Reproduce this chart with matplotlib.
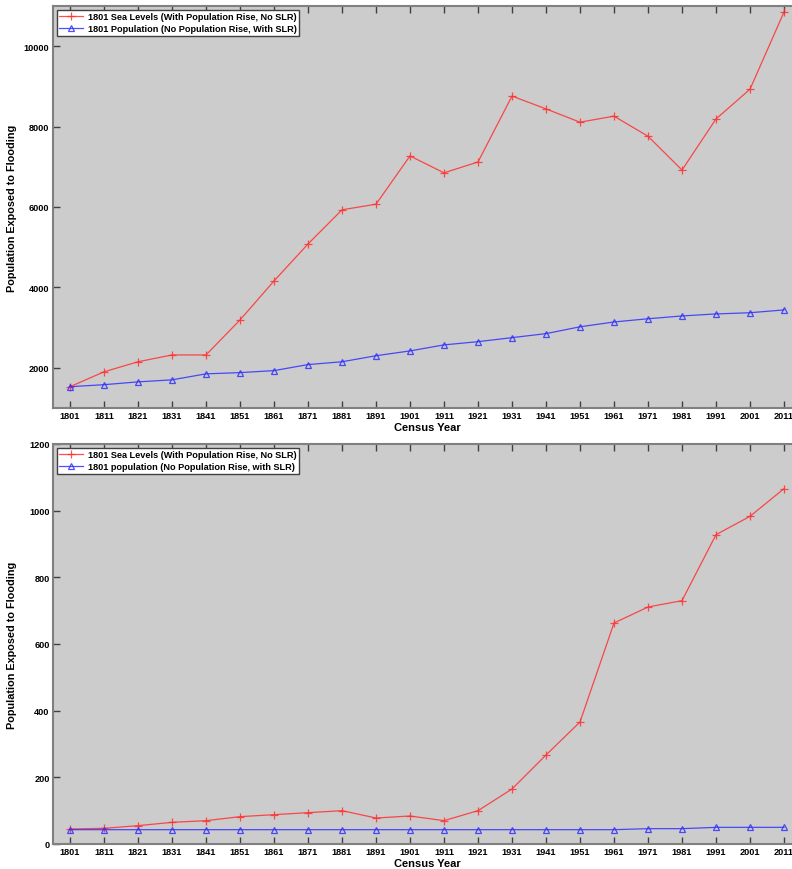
import matplotlib
matplotlib.use("Agg")
import matplotlib.pyplot as plt
import numpy as np

plt.rcParams['font.family'] = ['Liberation Sans', 'DejaVu Sans']
plt.rcParams['font.weight'] = 'bold'

years = list(range(1801, 2012, 10))

# top panel
top_sea = [1530, 1900, 2150, 2320, 2320, 3190, 4160, 5080, 5930, 6070, 7270,
           6850, 7120, 8760, 8440, 8110, 8260, 7760, 6920, 8190, 8930, 10850]
top_pop = [1530, 1580, 1650, 1700, 1850, 1880, 1930, 2080, 2150, 2300, 2420,
           2570, 2650, 2750, 2850, 3020, 3140, 3220, 3290, 3340, 3370, 3440]

# bottom panel
bot_sea = [45, 47, 55, 65, 70, 82, 88, 94, 100, 78, 84,
           70, 100, 165, 267, 366, 663, 711, 730, 928, 983, 1066]
bot_pop = [43, 43, 43, 43, 43, 43, 43, 43, 43, 43, 43,
           43, 43, 43, 43, 43, 43, 46, 46, 50, 50, 50]

top_labels = ['1801 Sea Levels (With Population Rise, No SLR)',
              '1801 Population (No Population Rise, With SLR)']
bot_labels = ['1801 Sea Levels (With Population Rise, No SLR)',
              '1801 population (No Population Rise, with SLR)']

fig = plt.figure(figsize=(7.92, 8.7), dpi=100)
ax1 = fig.add_axes([53/792, 1 - 409/870, 748/792, 402/870])
ax2 = fig.add_axes([53/792, 1 - 845/870, 748/792, 400/870])

def draw(ax, sea, pop, labels, ylim, yticks):
    ax.set_facecolor('#cccccc')
    ax.plot(years, sea, color='#ff3030', lw=0.9, marker='+', ms=5.5, mew=0.9,
            alpha=0.85, label=labels[0])
    ax.plot(years, pop, color='#3030ff', lw=0.9, marker='^', ms=4.5, mew=0.9,
            mfc='none', alpha=0.85, label=labels[1])
    ax.set_xlim(1796, 2016)
    ax.set_ylim(*ylim)
    ax.set_xticks(years)
    ax.set_yticks(yticks)
    ax.tick_params(direction='in', length=5, width=1, color='#404040',
                   labelsize=6.6, top=True, pad=2.5)
    for lab in ax.get_xticklabels() + ax.get_yticklabels():
        lab.set_fontweight('bold')
    for s in ax.spines.values():
        s.set_color('#808080')
        s.set_linewidth(1.5)
    ax.set_xlabel('Census Year', fontsize=8, fontweight='bold', labelpad=1)
    ax.set_ylabel('Population Exposed to Flooding', fontsize=7.8, fontweight='bold')
    ax.yaxis.set_label_coords(-0.048, 0.5)
    leg = ax.legend(loc='upper left', fontsize=6.6, fancybox=False,
                    edgecolor='#404040', framealpha=1, borderpad=0.3,
                    handlelength=2.6, handletextpad=0.5, labelspacing=0.3,
                    borderaxespad=0.4)
    leg.get_frame().set_linewidth(1)
    for t in leg.get_texts():
        t.set_fontweight('bold')

draw(ax1, top_sea, top_pop, top_labels, (1000, 11000), [2000, 4000, 6000, 8000, 10000])
draw(ax2, bot_sea, bot_pop, bot_labels, (0, 1200), [0, 200, 400, 600, 800, 1000, 1200])

fig.savefig('out.png', dpi=100)
